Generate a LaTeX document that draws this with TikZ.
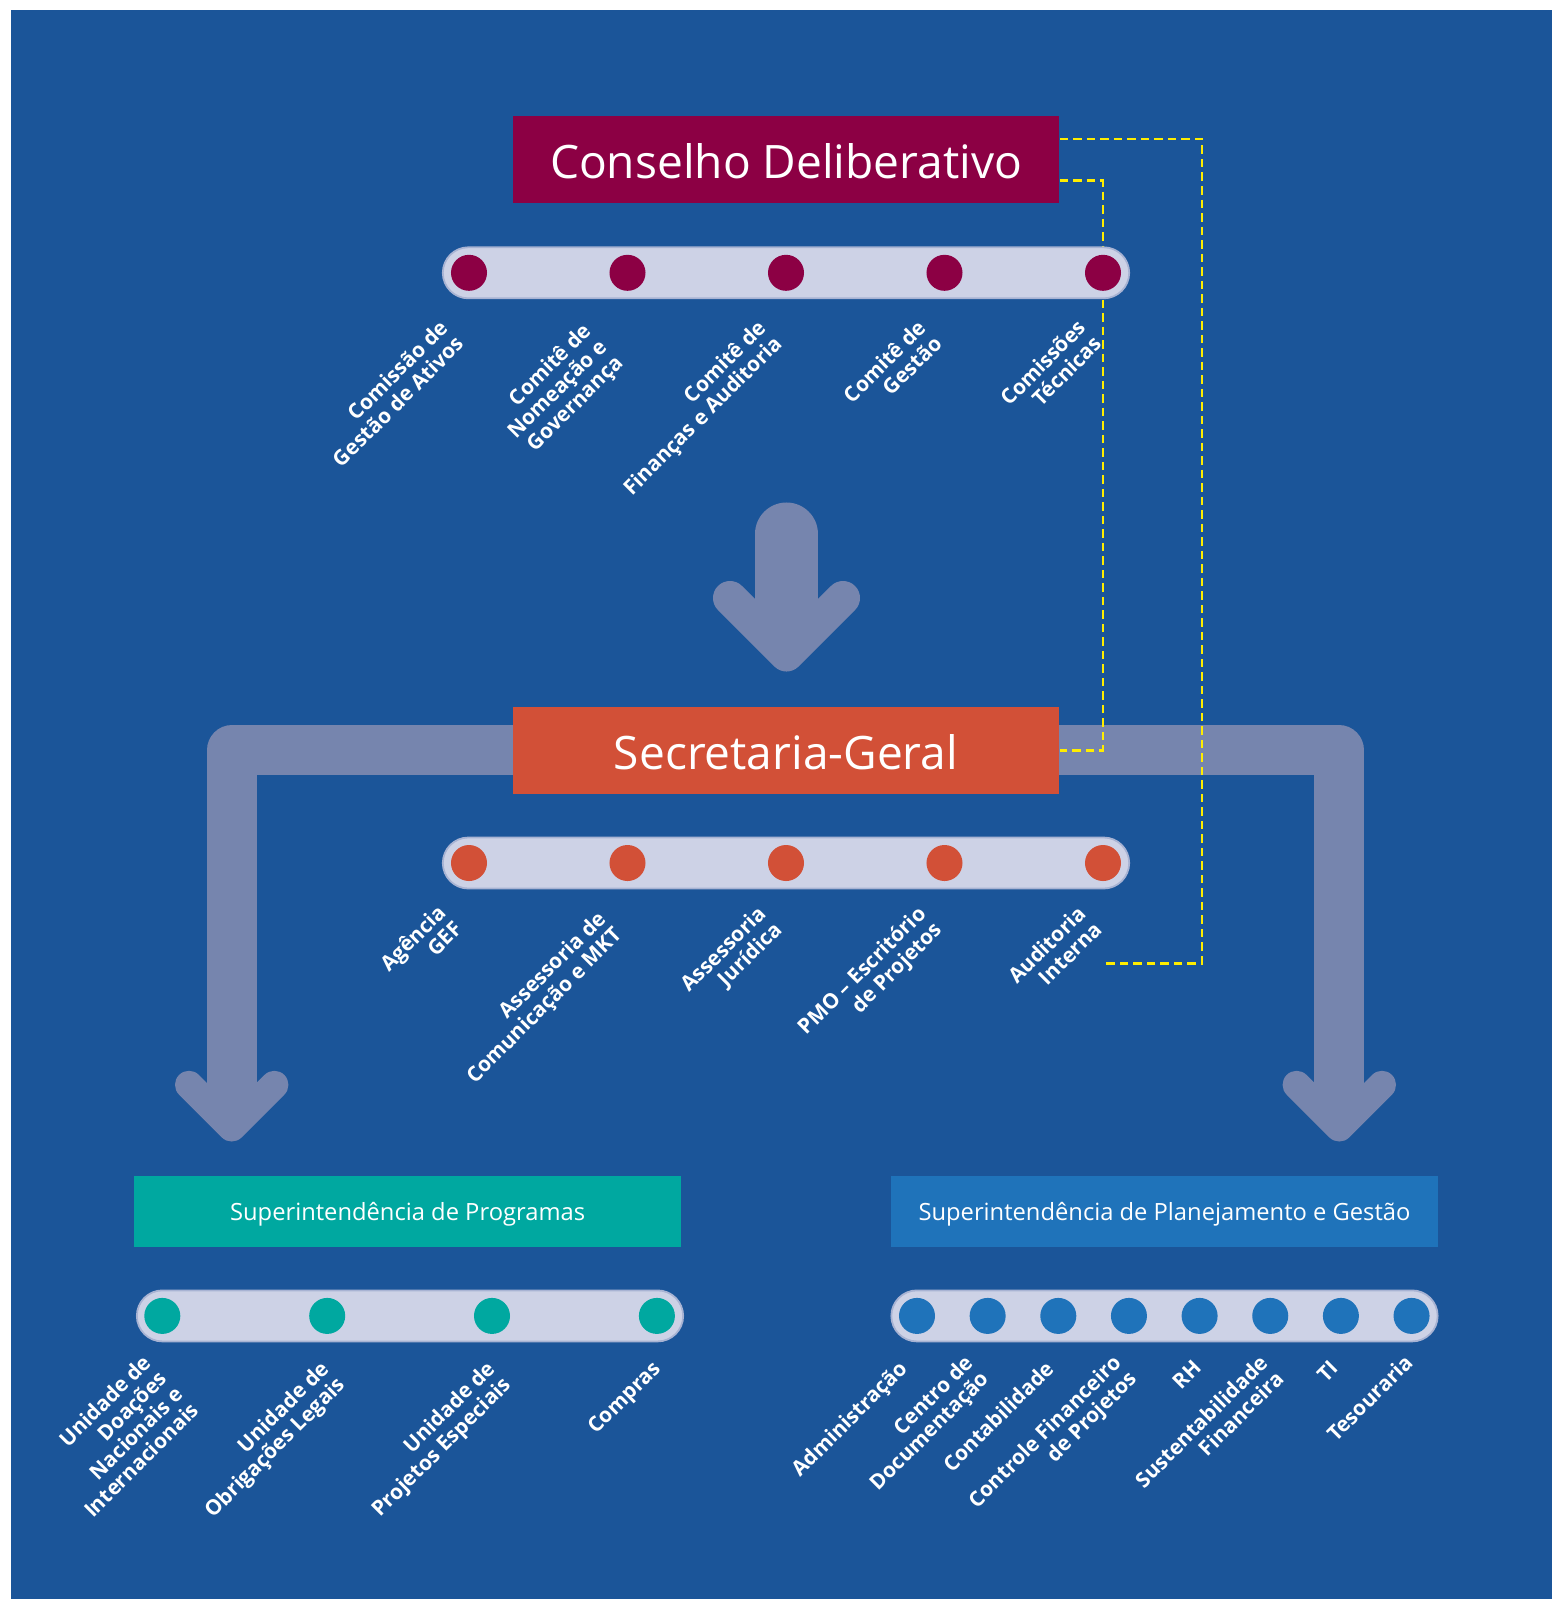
\documentclass[tikz,border=0pt]{standalone}
\usepackage{fontspec}
\setmainfont{Open Sans}
\usetikzlibrary{calc}
\pgfdeclarelayer{bg}
\pgfdeclarelayer{mid}
\pgfsetlayers{bg,mid,main}

\definecolor{bgblue}{HTML}{1B5599}
\definecolor{maroon}{HTML}{8C0044}
\definecolor{rust}{HTML}{D25037}
\definecolor{teal}{HTML}{00A8A0}
\definecolor{midblue}{HTML}{1F73BA}
\definecolor{pillc}{HTML}{CDD2E6}
\definecolor{pilledge}{HTML}{A8B3D3}
\definecolor{arrowc}{HTML}{7685AE}
\definecolor{dashc}{HTML}{FFED00}

\newcommand\lblfont{\fontsize{5.95}{6.4}\selectfont\bfseries}

\tikzset{
  titlebox/.style={rectangle, inner sep=0, minimum width=5.46cm, minimum height=0.87cm,
    text height=10.7pt, text depth=0pt,
    text=white, font=\fontsize{13.1}{15}\selectfont},
  subbox/.style={rectangle, inner sep=0, minimum width=5.46cm, minimum height=0.707cm,
    text height=5.5pt, text depth=0pt,
    text=white, font=\fontsize{6.75}{8}\selectfont},
  pill/.style={rectangle, rounded corners=0.255cm, minimum height=0.51cm, inner sep=0,
    fill=pillc, draw=pilledge, line width=0.5pt},
  dot/.style={circle, inner sep=0, minimum size=0.36cm},
  lbl/.style={rotate=45, anchor=north east, align=right, inner sep=0, text=white, font=\lblfont},
  bigarrow/.style={draw=arrowc, line width=0.5cm, line join=round},
  linkline/.style={draw=dashc, line width=0.027cm, dash pattern=on 0.085cm off 0.05cm},
}

\begin{document}
\begin{tikzpicture}[x=0.01cm, y=-0.01cm]
\useasboundingbox (0,0) rectangle (1552,1599);

% ---------- boxes ----------
\node[titlebox, fill=maroon] (cons) at (786,159.5) {Conselho Deliberativo};
\node[titlebox, fill=rust] (sec) at (786,750.4) {Secretaria-Geral};
\node[subbox, fill=teal] (supprog) at (407.6,1211.3) {Superintendência de Programas};
\node[subbox, fill=midblue] (supplan) at (1164.5,1211.3) {Superintendência de Planejamento e Gestão};

% ---------- Conselho committees ----------
\node[pill, minimum width=6.86cm] (pc) at (786,272.8) {};
\foreach \i/\x in {1/469,2/627.5,3/786,4/944.5,5/1103}
  \node[dot, fill=maroon] (c\i) at (\x,272.8) {};
\node[lbl] (lc1) at (438,317) {Comissão de\\Gestão de Ativos};
\node[lbl] (lc2) at (581,320) {Comitê de\\Nomeação e\\Governança};
\node[lbl] (lc3) at (756,317) {Comitê de\\Finanças e Auditoria};
\node[lbl] (lc4) at (916,317) {Comitê de\\Gestão};
\node[lbl] (lc5) at (1076,317) {Comissões\\Técnicas};

% ---------- Secretaria units ----------
\node[pill, minimum width=6.86cm] (ps) at (786,863) {};
\foreach \i/\x in {1/469,2/627.5,3/786,4/944.5,5/1103}
  \node[dot, fill=rust] (s\i) at (\x,863) {};
\node[lbl] (ls1) at (436,902) {Agência\\GEF};
\node[lbl] (ls2) at (596,908) {Assessoria de\\Comunicação e MKT};
\node[lbl] (ls3) at (756,903) {Assessoria\\Jurídica};
\node[lbl] (ls4) at (916,903) {PMO – Escritório\\de Projetos};
\node[lbl] (ls5) at (1076,903) {Auditoria\\Interna};

% ---------- Programas units ----------
\node[pill, minimum width=5.46cm] (pp) at (410,1315.9) {};
\foreach \i/\x in {1/162.3,2/327.2,3/492,4/656.9}
  \node[dot, fill=teal] (p\i) at (\x,1315.9) {};
\node[lbl] (lp1) at (141,1352) {Unidade de\\Doações\\Nacionais e\\Internacionais};
\node[lbl] (lp2) at (319,1358) {Unidade de\\Obrigações Legais};
\node[lbl] (lp3) at (485,1358) {Unidade de\\Projetos Especiais};
\node[lbl] (lp4) at (651,1358) {Compras};

% ---------- Planejamento e Gestão units ----------
\node[pill, minimum width=5.46cm] (pg) at (1164.5,1315.9) {};
\foreach \i in {1,...,8}
  \node[dot, fill=midblue] (g\i) at ({917+70.65*(\i-1)},1315.9) {};
\node[lbl] (lg1) at (897,1358) {Administração};
\node[lbl] (lg2) at (963,1352) {Centro de\\Documentação};
\node[lbl] (lg3) at (1044,1358) {Contabilidade};
\node[lbl] (lg4) at (1111,1352) {Controle Financeiro\\de Projetos};
\node[lbl] (lg5) at (1192,1358) {RH};
\node[lbl] (lg6) at (1258,1352) {Sustentabilidade\\Financeira};
\node[lbl] (lg7) at (1329,1358) {TI};
\node[lbl] (lg8) at (1403,1352) {Tesouraria};

% ---------- background and flow arrows ----------
\begin{pgfonlayer}{bg}
  \fill[white] (0,0) rectangle (1552,1599);
  \fill[bgblue] (11,10) rectangle (1552,1599);
  % Conselho -> Secretaria
  \draw[draw=arrowc, line width=0.63cm, line cap=round] (786.5,534) -- (786.5,610);
  \draw[draw=arrowc, line width=0.34cm, line cap=round, line join=round]
    (730,598) -- (786.5,654.5) -- (843,598);
  % Secretaria -> superintendências
  \draw[bigarrow] (231.7,1110) -- (231.7,750.4) -- (1339.3,750.4) -- (1339.3,1110);
  \draw[draw=arrowc, line width=0.28cm, line cap=round, line join=round]
    (189,1084.8) -- (231.7,1127.5) -- (274.4,1084.8);
  \draw[draw=arrowc, line width=0.28cm, line cap=round, line join=round]
    (1296.6,1084.8) -- (1339.3,1127.5) -- (1382,1084.8);
\end{pgfonlayer}

% ---------- reporting links ----------
\coordinate (audend) at (1103,963.3);
\begin{pgfonlayer}{mid}
  \draw[linkline] ($(cons.east)+(0,-20.5)$) -- (1202,139) -- (1202,963.3) -- (audend);
  \draw[linkline] ($(cons.east)+(0,21.2)$) -| (c5.center |- sec.east) -- (sec.east);
\end{pgfonlayer}
\end{tikzpicture}
\end{document}
